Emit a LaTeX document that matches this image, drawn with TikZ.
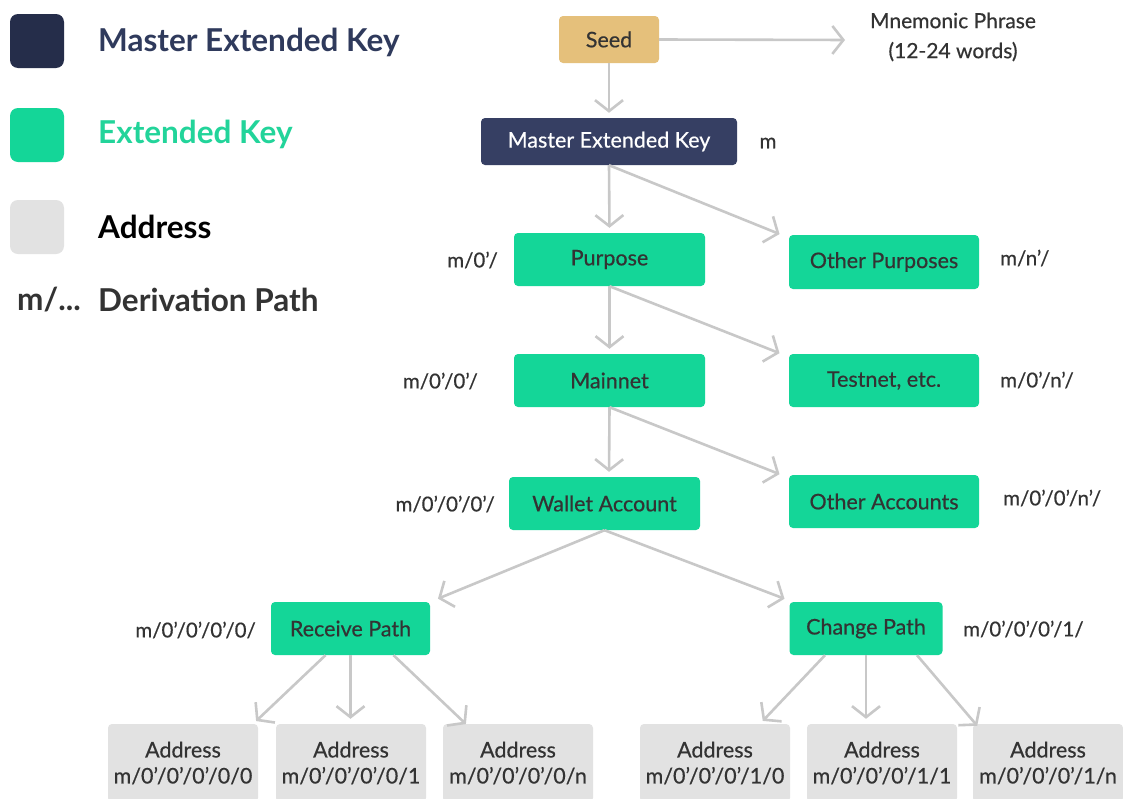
\documentclass[tikz,border=0pt]{standalone}
\usepackage{fontspec}
\setmainfont{Lato}
\newfontfamily\medfont{Lato}[FakeBold=0.5]
\usetikzlibrary{arrows.meta,calc}
\definecolor{navy}{HTML}{363F63}
\definecolor{navyleg}{HTML}{252D4A}
\definecolor{navytxt}{HTML}{2F3A5C}
\definecolor{grn}{HTML}{14D698}
\definecolor{grntxt}{HTML}{22D49A}
\definecolor{addr}{HTML}{E2E2E2}
\definecolor{gold}{HTML}{E5C07B}
\definecolor{arr}{HTML}{C8C8C8}
\definecolor{txt}{HTML}{333333}
\tikzset{
  box/.style={rectangle, rounded corners=4pt, inner sep=0pt, text=txt, font=\medfont\fontsize{21.5}{24}\selectfont},
  keybox/.style={box, fill=grn},
  addrbox/.style={box, fill=addr, minimum width=150pt, minimum height=78pt, align=center, font=\medfont\fontsize{21.5}{26}\selectfont},
  lbl/.style={text=txt, font=\medfont\fontsize{20.5}{24}\selectfont, inner sep=0pt},
  leg/.style={rectangle, rounded corners=8pt, minimum width=54pt, minimum height=54pt, inner sep=0pt},
  legtxt/.style={anchor=west, inner sep=0pt, font=\fontsize{31.5}{34}\selectfont\bfseries},
  conn/.style={draw=arr, line width=2.6pt, -{Straight Barb[length=11pt,width=28pt]}, shorten >=5pt}
}
\begin{document}
\begin{tikzpicture}[x=1pt,y=-1pt]
\useasboundingbox[fill=white] (0,0) rectangle (1123,798);
% legend
\node[leg, fill=navyleg] (l1) at (37,41) {};
\node[leg, fill=grn] (l2) at (37,135) {};
\node[leg, fill=addr] (l3) at (37,227) {};
\node[legtxt, text=navytxt] (t1) at (98,42) {Master Extended Key};
\node[legtxt, text=grntxt] (t2) at (98,134) {Extended Key};
\node[legtxt, text=black] (t3) at (98,227) {Address};
\node[legtxt, text=txt] (t4) at (98,300) {Derivation Path};
\node[legtxt, text=txt, anchor=west] (t5) at (17,300) {m/...};
% nodes
\node[box, fill=gold, minimum width=100pt, minimum height=47pt] (seed) at (609,39.5) {Seed};
\node[lbl, align=center, font=\medfont\fontsize{21}{30}\selectfont] (mn) at (953,37) {Mnemonic Phrase\\(12-24 words)};
\coordinate (mnin) at (850,40);
\node[box, fill=navy, text=white, minimum width=256pt, minimum height=47pt] (mk) at (609,141.5) {Master Extended Key};
\node[lbl] (lm) at (768,143) {m};
\node[keybox, minimum width=191pt, minimum height=53pt] (pur) at (609.5,259.5) {Purpose};
\node[keybox, minimum width=190pt, minimum height=54pt] (op) at (884,262) {Other Purposes};
\node[keybox, minimum width=191pt, minimum height=53pt] (main) at (609.5,380.5) {Mainnet};
\node[keybox, minimum width=190pt, minimum height=53pt] (test) at (884,380.5) {Testnet, etc.};
\node[keybox, minimum width=191pt, minimum height=53pt] (wal) at (604.5,503.5) {Wallet Account};
\node[keybox, minimum width=190pt, minimum height=53pt] (oa) at (884,501.5) {Other Accounts};
\node[keybox, minimum width=159pt, minimum height=53pt] (rec) at (350.5,628.5) {Receive Path};
\node[keybox, minimum width=153pt, minimum height=53pt] (chg) at (866,628.5) {Change Path};
% labels
\node[lbl, anchor=east] (lp) at (498,260) {m/0’/};
\node[lbl, anchor=west] (lop) at (1000,258) {m/n’/};
\node[lbl, anchor=east] (lmn) at (478,381) {m/0’/0’/};
\node[lbl, anchor=west] (lt) at (1000,380) {m/0’/n’/};
\node[lbl, anchor=east] (lw) at (495,504) {m/0’/0’/0’/};
\node[lbl, anchor=west] (loa) at (1003,498) {m/0’/0’/n’/};
\node[lbl, anchor=east] (lr) at (256,630) {m/0’/0’/0’/0/};
\node[lbl, anchor=west] (lc) at (963,629) {m/0’/0’/0’/1/};
% addresses
\node[addrbox] (a1) at (183,763) {Address\\m/0’/0’/0’/0/0};
\node[addrbox] (a2) at (351,763) {Address\\m/0’/0’/0’/0/1};
\node[addrbox] (a3) at (518,763) {Address\\m/0’/0’/0’/0/n};
\node[addrbox] (a4) at (715,763) {Address\\m/0’/0’/0’/1/0};
\node[addrbox] (a5) at (882,763) {Address\\m/0’/0’/0’/1/1};
\node[addrbox] (a6) at (1048,763) {Address\\m/0’/0’/0’/1/n};
% connectors
\draw[conn] (seed.east) -- (mnin);
\draw[conn] (seed.south) -- (mk.north);
\draw[conn] (mk.south) -- (pur.north);
\draw[conn, shorten >=10pt] (mk.south) -- ([yshift=-3pt]op.north west);
\draw[conn] (pur.south) -- (main.north);
\draw[conn, shorten >=10pt] (pur.south) -- ([yshift=-3pt]test.north west);
\draw[conn] (main.south) -- ([xshift=-0.5pt]main.south |- wal.north);
\draw[conn, shorten >=10pt] (main.south) -- ([yshift=-3pt]oa.north west);
\draw[conn, shorten >=3pt] (wal.south) -- ([xshift=5pt,yshift=2pt]rec.north east);
\draw[conn, shorten >=3pt] (wal.south) -- ([xshift=-2pt,yshift=2pt]chg.north west);
\draw[conn, shorten >=4pt] ([xshift=-25pt]rec.south) -- ([xshift=-5pt]a1.north east);
\draw[conn] (rec.south) -- (a2.north -| rec.south);
\draw[conn, shorten >=4pt] ([xshift=43pt]rec.south) -- ([xshift=26pt,yshift=-3pt]a3.north west);
\draw[conn, shorten >=4pt] ([xshift=-41pt]chg.south) -- ([xshift=45pt]a4.north);
\draw[conn] (chg.south) -- (a5.north -| chg.south);
\draw[conn, shorten >=4pt] ([xshift=51pt]chg.south) -- ([xshift=7pt,yshift=-5pt]a6.north west);
\end{tikzpicture}
\end{document}
